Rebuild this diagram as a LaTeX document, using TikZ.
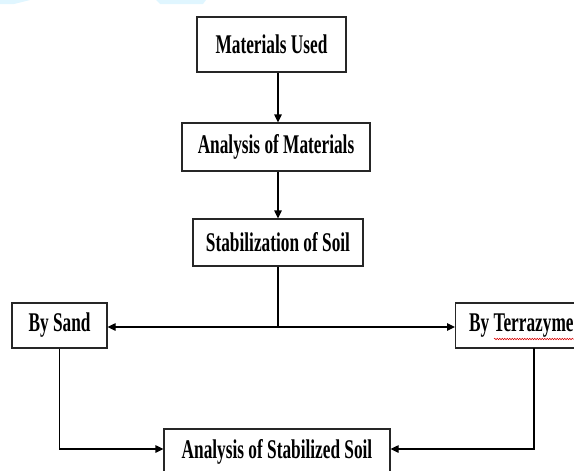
\documentclass[tikz,border=0pt]{standalone}
\usepackage{fontspec}
\setmainfont{Liberation Serif}
\newfontfamily\condfont[FakeStretch=0.64]{Liberation Serif Bold}
\usetikzlibrary{arrows.meta,decorations.pathmorphing}
\begin{document}
\begin{tikzpicture}[x=1pt,y=-1pt,
  box/.style={draw=black!85,line width=1.2pt,fill=white,inner sep=0pt,
    font=\condfont\fontsize{27}{27}\selectfont},
  conn/.style={draw=black,line width=1.2pt},
  arr/.style={conn,-{Triangle[length=8pt,width=7.5pt]}}]
\useasboundingbox (0,0) rectangle (574,471);
\clip (0,0) rectangle (574,471);
% faint watermark fragments
\fill[blue!30!cyan!12] (0,0) -- (30,0) -- (14,4) -- (0,4) -- cycle;
\fill[blue!30!cyan!12] (156,0) -- (206,0) -- (203,4) -- (160,4) -- cycle;
% nodes
\node[box,minimum width=149pt,minimum height=55pt] (m1) at (271.5,44.5) {Materials Used};
\node[box,minimum width=188pt,minimum height=48pt] (m2) at (276,147) {Analysis of Materials};
\node[box,minimum width=170pt,minimum height=47pt] (m3) at (278,242.5) {Stabilization of Soil};
\node[box,minimum width=95pt,minimum height=45pt] (sand) at (59.5,325.5) {By Sand};
\node[box,inner xsep=12pt,minimum height=45pt,anchor=west] (terra) at (455,325.5) {\hspace{1.5pt}By Terrazyme\hspace{10pt}};
\node[box,minimum width=226pt,minimum height=46pt] (fin) at (277,452) {Analysis of Stabilized Soil};
% spell-check squiggle
\coordinate (sq1) at (494,339);
\coordinate (sq2) at (574,339);
\draw[red!85!black,line width=0.5pt,decorate,decoration={snake,amplitude=0.8pt,segment length=2.5pt}] (sq1) -- (sq2);
% connectors
\coordinate (j) at (278,327);
\coordinate (tv) at (534,348);
\draw[arr] (m1.south -| m3.center) -- (m2.north -| m3.center);
\draw[arr] (m2.south -| m3.center) -- (m3.north);
\draw[conn] (m3.south) -- (j);
\draw[arr] (j) -- (sand.east |- j);
\draw[arr] (j) -- (terra.west |- j);
\draw[arr] (sand.south) |- ([yshift=3pt]fin.west);
\draw[arr] (tv) |- ([yshift=3pt]fin.east);
\end{tikzpicture}
\end{document}
